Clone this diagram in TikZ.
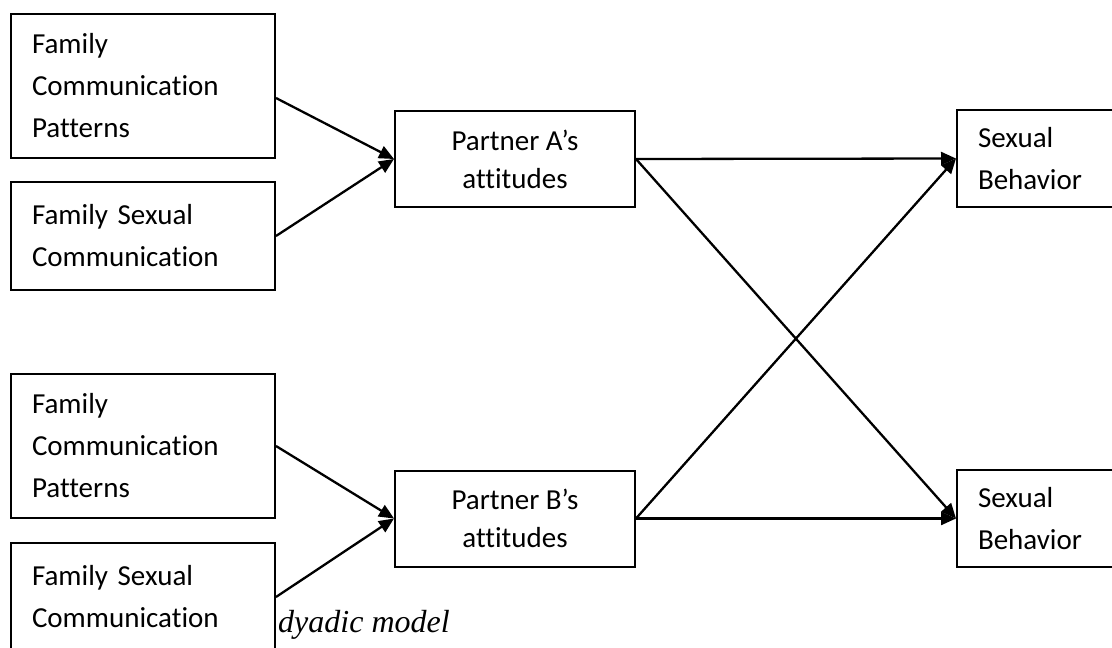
\documentclass[tikz,border=0pt]{standalone}
\usepackage{fontspec}
\setmainfont[Ligatures=NoCommon]{Carlito}
\newfontfamily\capfont{Liberation Serif}
\usetikzlibrary{arrows.meta}
\tikzset{
  fambox/.style={draw, line width=2pt, minimum width=264pt, text width=222pt,
    inner xsep=21pt, inner ysep=0pt, align=left,
    font=\fontsize{29}{42}\selectfont},
  ptbox/.style={draw, line width=2pt, minimum width=240pt, minimum height=96pt,
    inner sep=0pt, align=center, font=\fontsize{29}{38}\selectfont},
  sbbox/.style={draw, line width=2pt, minimum width=250pt, minimum height=97pt,
    text width=208pt, inner xsep=21pt, inner ysep=0pt, align=left,
    font=\fontsize{29}{42}\selectfont},
  link/.style={line width=2.3pt, -{Triangle[length=15pt,width=13pt]}},
  caption/.style={font=\capfont\itshape\fontsize{32}{38}\selectfont, inner sep=0pt, anchor=base west}
}
\begin{document}
\begin{tikzpicture}[x=1pt,y=-1pt]
\useasboundingbox (0,0) rectangle (1112,648);
\node[fambox, minimum height=144pt] (fcpA) at (143,86) {Family\\Communication\\Patterns};
\node[fambox, minimum height=108pt] (fscA) at (143,236) {Family Sexual\\Communication};
\node[fambox, minimum height=144pt] (fcpB) at (143,446) {Family\\Communication\\Patterns};
\node[fambox, minimum height=108pt] (fscB) at (143,597) {Family Sexual\\Communication};
\node[ptbox] (pa) at (515,159) {Partner A’s\\attitudes};
\node[ptbox] (pb) at (515,518.5) {Partner B’s\\attitudes};
\node[sbbox] (sbA) at (1082,158.5) {Sexual\\Behavior};
\node[sbbox] (sbB) at (1082,518.5) {Sexual\\Behavior};
\node[caption] (cap) at (278,632) {dyadic model};
\draw[link] ([yshift=-12pt]fcpA.east) -- (pa.west);
\draw[link] (fscA.east) -- (pa.west);
\draw[link] (fcpB.east) -- (pb.west);
\draw[link] (fscB.east) -- (pb.west);
\draw[link] (pa.east) -- (sbA.west);
\draw[link] (pa.east) -- (sbB.west);
\draw[link] (pb.east) -- (sbA.west);
\draw[link] (pb.east) -- (sbB.west);
\end{tikzpicture}
\end{document}
